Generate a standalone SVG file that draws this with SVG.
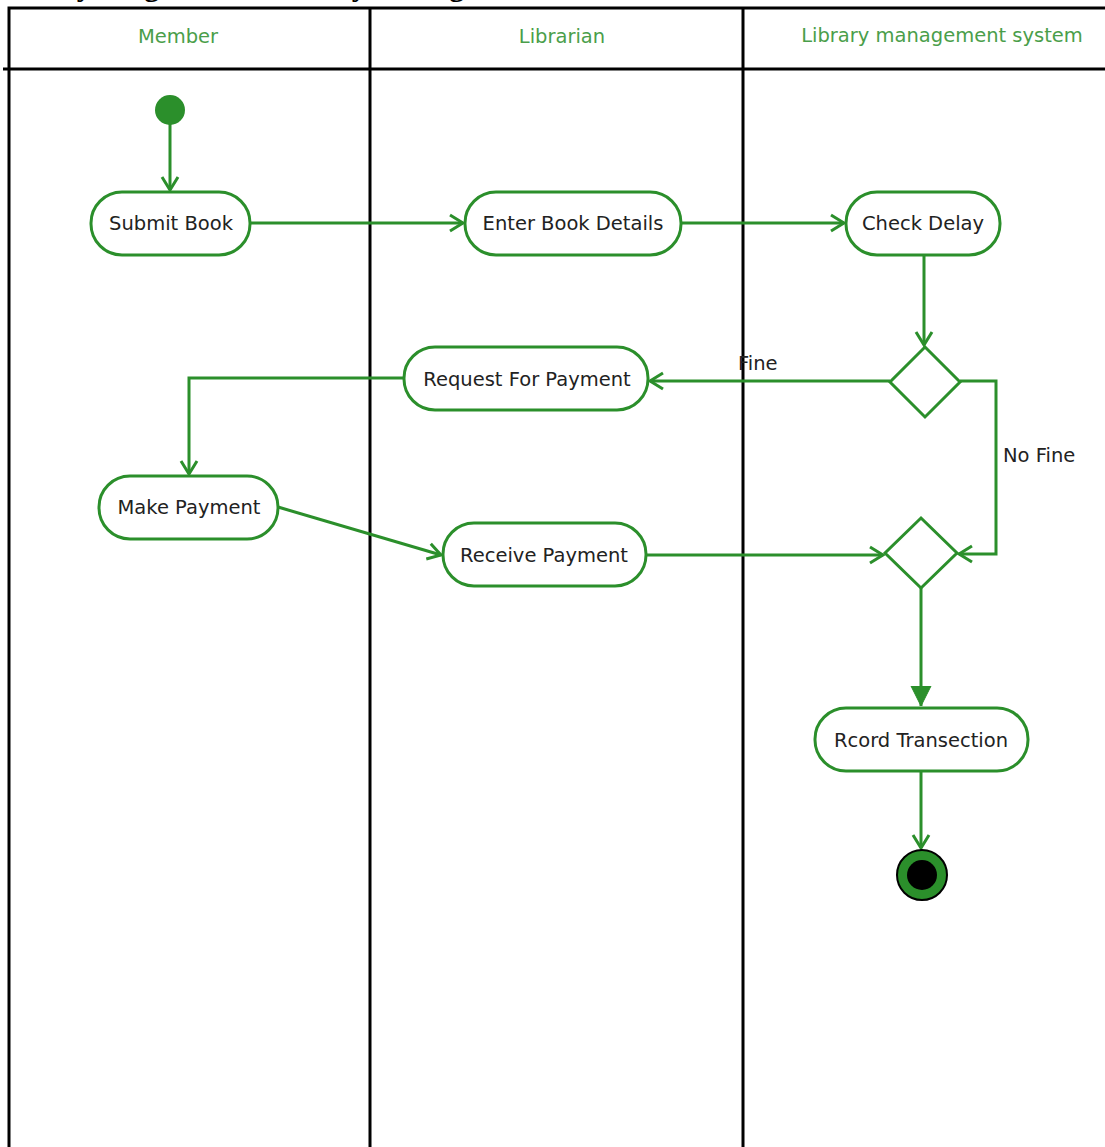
<svg xmlns="http://www.w3.org/2000/svg" width="1105" height="1147" viewBox="0 0 1105 1147">
  <style>
    .lane { stroke: #000; stroke-width: 3; fill: none; }
    .lane-title { font-family: "DejaVu Sans", "Liberation Sans", sans-serif; font-size: 19.5px; fill: #4a9e4a; text-anchor: middle; }
    .act { fill: #fff; stroke: #2b8f2b; stroke-width: 3; }
    .act-label { font-family: "DejaVu Sans", "Liberation Sans", sans-serif; font-size: 19.5px; fill: #222; text-anchor: middle; }
    .flow { stroke: #2b8f2b; stroke-width: 3; fill: none; }
    .guard { font-family: "DejaVu Sans", "Liberation Sans", sans-serif; font-size: 19.5px; fill: #222; }
    .title { font-family: "Liberation Serif", serif; font-weight: bold; font-size: 30px; fill: #000; }
  </style>
  <defs>
    <marker id="open" markerUnits="userSpaceOnUse" markerWidth="16" markerHeight="20" refX="14" refY="10" orient="auto">
      <path d="M1,2 L14,10 L1,18" fill="none" stroke="#2b8f2b" stroke-width="3"/>
    </marker>
    <marker id="solid" markerUnits="userSpaceOnUse" markerWidth="22" markerHeight="24" refX="20" refY="12" orient="auto">
      <path d="M0,2 L20,12 L0,22 Z" fill="#2b8f2b" stroke="#2b8f2b" stroke-width="1"/>
    </marker>
  </defs>

  <rect width="1105" height="1147" fill="#fff"/>

  <!-- page heading, mostly above the visible area -->
  <text class="title" x="-10" y="-4">Activity Diagram for Library Management</text>

  <!-- swimlanes -->
  <g id="swimlanes">
    <path class="lane" d="M9,1147 V8 H1105"/>
    <path class="lane" d="M3,69 H1105"/>
    <path class="lane" d="M370,8 V1147"/>
    <path class="lane" d="M743,8 V1147"/>
    <text class="lane-title" x="178" y="43">Member</text>
    <text class="lane-title" x="562" y="43">Librarian</text>
    <text class="lane-title" x="942" y="42">Library management system</text>
  </g>

  <!-- control flows -->
  <g id="connectors">
    <path class="flow" d="M170,124 V190" marker-end="url(#open)"/>
    <path class="flow" d="M250,223 H463" marker-end="url(#open)"/>
    <path class="flow" d="M681,223 H844" marker-end="url(#open)"/>
    <path class="flow" d="M924,255 V345" marker-end="url(#open)"/>
    <path class="flow" d="M890,381 H650" marker-end="url(#open)"/>
    <path class="flow" d="M960,381 H996 V554 H959" marker-end="url(#open)"/>
    <path class="flow" d="M404,378 H189 V474" marker-end="url(#open)"/>
    <path class="flow" d="M278,507 L441,555" marker-end="url(#open)"/>
    <path class="flow" d="M646,555 H883" marker-end="url(#open)"/>
    <path class="flow" d="M921,588 V706" marker-end="url(#solid)"/>
    <path class="flow" d="M921,771 V848" marker-end="url(#open)"/>
    <text class="guard" x="738" y="370">Fine</text>
    <text class="guard" x="1003" y="462">No Fine</text>
  </g>

  <g id="start">
    <circle cx="170" cy="110" r="15" fill="#2b8f2b"/>
  </g>

  <g id="submit-book">
    <rect class="act" x="91" y="192" width="159" height="63" rx="31" ry="31"/>
    <text class="act-label" x="171" y="230">Submit Book</text>
  </g>

  <g id="enter-book-details">
    <rect class="act" x="465" y="192" width="216" height="63" rx="31" ry="31"/>
    <text class="act-label" x="573" y="230">Enter Book Details</text>
  </g>

  <g id="check-delay">
    <rect class="act" x="846" y="192" width="154" height="63" rx="31" ry="31"/>
    <text class="act-label" x="923" y="230">Check Delay</text>
  </g>

  <g id="fine-decision">
    <path class="act" d="M925,347 L960,382 L925,417 L890,382 Z"/>
  </g>

  <g id="request-for-payment">
    <rect class="act" x="404" y="347" width="244" height="63" rx="31" ry="31"/>
    <text class="act-label" x="527" y="386">Request For Payment</text>
  </g>

  <g id="make-payment">
    <rect class="act" x="99" y="476" width="179" height="63" rx="31" ry="31"/>
    <text class="act-label" x="189" y="514">Make Payment</text>
  </g>

  <g id="receive-payment">
    <rect class="act" x="443" y="523" width="203" height="63" rx="31" ry="31"/>
    <text class="act-label" x="544" y="562">Receive Payment</text>
  </g>

  <g id="payment-merge">
    <path class="act" d="M921,518 L957,553 L921,588 L885,553 Z"/>
  </g>

  <g id="record-transaction">
    <rect class="act" x="815" y="708" width="213" height="63" rx="31" ry="31"/>
    <text class="act-label" x="921" y="747">Rcord Transection</text>
  </g>

  <g id="end">
    <circle cx="922" cy="875" r="25" fill="#2b8f2b" stroke="#000" stroke-width="2"/>
    <circle cx="922" cy="875" r="15" fill="#000"/>
  </g>
</svg>
